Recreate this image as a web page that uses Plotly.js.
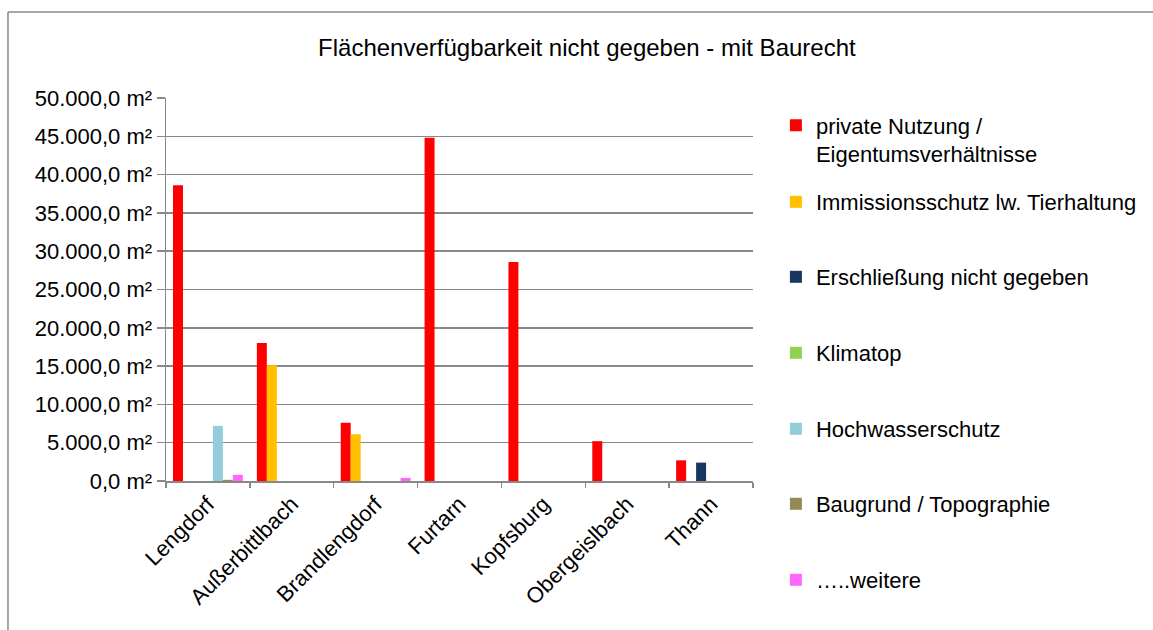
<!DOCTYPE html>
<html>
<head>
<meta charset="utf-8">
<script src="https://cdn.plot.ly/plotly-3.0.1.min.js"></script>
<style>
  body { margin: 0; background: #fff; }
  #chart { width: 1153px; height: 630px; }
</style>
</head>
<body>
<div id="chart"></div>
<script>
// categories (Ortsteile)
var orte = ["Lengdorf", "Außerbittlbach", "Brandlengdorf", "Furtarn", "Kopfsburg", "Obergeislbach", "Thann"];

// Flächen in m² je Grund
var privat      = [38600, 18000, 7600, 44800, 28600, 5200, 2700];
var immission   = [0, 15100, 6100, 0, 0, 0, 0];
var erschl      = [0, 0, 0, 0, 0, 0, 2400];
var klimatop    = [0, 0, 0, 0, 0, 0, 0];
var hochwasser  = [7200, 0, 0, 0, 0, 0, 0];
var baugrund    = [150, 0, 0, 0, 0, 0, 0];
var weitere     = [800, 0, 400, 0, 0, 0, 0];

var names = ["private Nutzung /<br>Eigentumsverhältnisse", "Immissionsschutz lw. Tierhaltung",
  "Erschließung nicht gegeben", "Klimatop", "Hochwasserschutz", "Baugrund / Topographie", "…..weitere"];
var values = [privat, immission, erschl, klimatop, hochwasser, baugrund, weitere];
var colors = ["#ff0000", "#ffc000", "#17375e", "#92d050", "#92cddc", "#948a54", "#ff66ff"];

var font = "'Liberation Sans', Arial, sans-serif";

// legend rows in pixel (centre of each entry), turned into paper coords below
var legendRows = [140, 202, 277, 353, 429, 504, 580];
var plotTop = 98, plotBottom = 481;

var data = values.map(function (v, i) {
  return {
    type: "bar",
    x: orte,
    y: v,
    name: names[i],
    legend: i === 0 ? "legend" : "legend" + (i + 1),
    marker: { color: colors[i] },
    hoverinfo: "y+name"
  };
});

var layout = {
  width: 1153,
  height: 630,
  margin: { l: 166, r: 400, t: plotTop, b: 630 - plotBottom, autoexpand: false },
  paper_bgcolor: "#fff",
  plot_bgcolor: "#fff",
  font: { family: font, size: 22, color: "#000" },
  title: {
    text: "Flächenverfügbarkeit nicht gegeben - mit Baurecht",
    font: { family: font, size: 24, color: "#000" },
    x: 0.509, xref: "container", xanchor: "center",
    y: 0.924, yref: "container", yanchor: "middle"
  },
  barmode: "group",
  bargap: 0.167,
  bargroupgap: 0,
  showlegend: true,
  xaxis: {
    type: "category",
    tickangle: -45,
    ticks: "outside",
    tickson: "boundaries",
    ticklen: 5,
    tickcolor: "#888",
    tickwidth: 1.5,
    showline: true,
    linecolor: "#888",
    linewidth: 1.5,
    showgrid: false,
    tickfont: { family: font, size: 22, color: "#000" }
  },
  yaxis: {
    range: [0, 50000],
    dtick: 5000,
    tickformat: ",.1f",
    ticksuffix: " m²",
    ticks: "outside",
    ticklen: 8,
    tickcolor: "#888",
    tickwidth: 1.5,
    showline: true,
    linecolor: "#888",
    linewidth: 1.5,
    gridcolor: "#888",
    gridwidth: 1.5,
    zeroline: false,
    tickfont: { family: font, size: 22, color: "#000" }
  },
  separators: ",.",
  // outer frame (left and top edge only)
  shapes: [
    { type: "line", xref: "paper", yref: "paper", x0: -0.2692, x1: -0.2692, y0: 1.2245, y1: -0.4,
      line: { color: "#888", width: 1.5 } },
    { type: "line", xref: "paper", yref: "paper", x0: -0.2692, x1: 1.69, y0: 1.2245, y1: 1.2245,
      line: { color: "#888", width: 1.5 } }
  ]
};

// one small legend per entry so the rows sit where they are in the original
legendRows.forEach(function (py, i) {
  var key = i === 0 ? "legend" : "legend" + (i + 1);
  layout[key] = {
    x: 1.039, xanchor: "left",
    y: (plotBottom - py) / (plotBottom - plotTop), yanchor: "middle",
    valign: "top",
    bgcolor: "rgba(0,0,0,0)",
    borderwidth: 0,
    font: { family: font, size: 22, color: "#000" }
  };
});

Plotly.newPlot("chart", data, layout, { displayModeBar: false, staticPlot: true });
</script>
</body>
</html>
